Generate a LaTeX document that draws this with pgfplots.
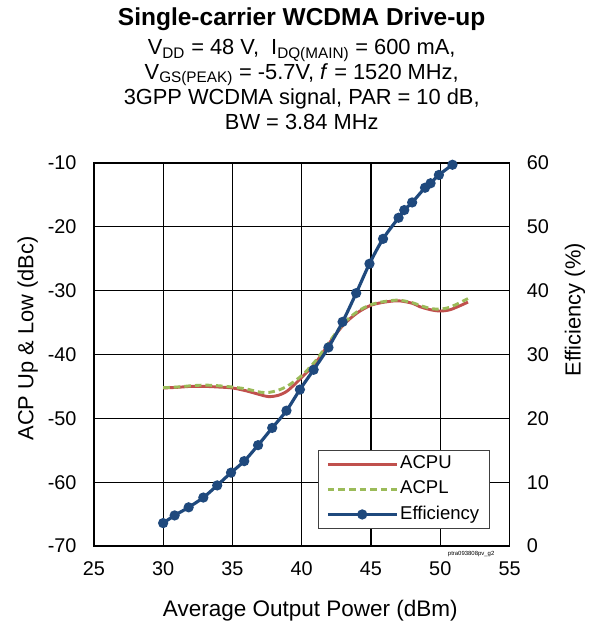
\documentclass[border=0pt]{standalone}
\usepackage{fontspec}
\setmainfont{Liberation Sans}
\usepackage{pgfplots}
\pgfplotsset{compat=1.18}
\definecolor{acpu}{RGB}{192,80,77}
\definecolor{acpl}{RGB}{155,187,89}
\definecolor{effc}{RGB}{31,73,125}

\pgfplotstableread{
P ACPU
30 -45.25
31 -45.15
32 -45.0
33 -45.0
34 -45.1
35 -45.25
36 -45.7
37 -46.3
37.6 -46.6
38.3 -46.4
39 -45.65
40 -43.6
41 -41.3
42 -38.2
43 -35.4
44 -33.5
45 -32.3
46 -31.8
47 -31.6
48 -32.0
48.5 -32.5
49.3 -33.0
50 -33.2
50.7 -33.0
51.5 -32.3
52 -31.8
}\acpudata

\pgfplotstableread{
P ACPL
30 -45.2
31 -45.1
32 -44.9
33 -44.8
34 -44.9
35 -45.1
36 -45.4
37 -45.9
37.6 -45.95
38.3 -45.6
39 -44.9
40 -43.3
41 -41.0
42 -38.0
43 -35.2
44 -33.3
45 -32.2
46 -31.7
47 -31.5
48 -31.9
48.5 -32.3
49.3 -32.8
50 -32.9
50.7 -32.6
51.5 -31.8
52 -31.25
}\acpldata

\pgfplotstableread{
P Eff
30.0 3.6
30.83 4.8
31.84 6.07
32.9 7.6
33.9 9.5
34.9 11.5
35.85 13.3
36.85 15.8
37.87 18.5
38.9 21.2
39.87 24.5
40.86 27.6
41.93 31.1
42.95 35.1
43.93 39.6
44.89 44.2
45.87 48.1
46.99 51.4
47.4 52.6
47.97 53.8
48.9 56.1
49.3 56.8
49.9 58.1
50.88 59.7
}\effdata

\begin{document}
\begin{tikzpicture}[font=\fontsize{15}{18}\selectfont]
\pgfplotsset{
  every axis/.append style={
    scale only axis, width=314pt, height=289.5pt,
    xmin=25, xmax=55,
    /pgf/number format/assume math mode=true,
    tick style={draw=none},
    ticklabel style={font=\fontsize{15}{18}\selectfont},
  }
}
\begin{axis}[
  name=main,
  ymin=-70, ymax=-10,
  ytick={-70,-60,...,-10},
  xtick={25,30,...,55},
  grid=major,
  grid style={black, line width=0.9pt},
  axis line style={black, line width=1.1pt},
  xticklabel style={yshift=-8pt},
  yticklabel style={xshift=-9.6pt},
]
\addplot[acpu, line width=2.2pt, smooth] table[x=P, y=ACPU] {\acpudata};
\addplot[acpl, line width=2.2pt, smooth, dash pattern=on 5pt off 3pt] table[x=P, y=ACPL] {\acpldata};
\end{axis}
\begin{axis}[
  ymin=0, ymax=60,
  ytick={0,10,...,60},
  axis y line*=right,
  axis x line=none,
  axis line style={draw=none},
  yticklabel style={xshift=9.6pt},
  legend cell align=left,
  legend style={
    at={(0.5386,0.0449)}, anchor=south west,
    draw=black!75, line width=0.8pt,
    font=\fontsize{14}{16}\selectfont,
    inner xsep=6pt, inner ysep=2.5pt,
    nodes={inner sep=1.5pt, text height=10pt, text depth=3pt},
    row sep=3pt,
  },
  legend image code/.code={
    \draw[mark repeat=2, mark phase=2] plot coordinates {(0pt,0pt) (26pt,0pt) (52pt,0pt)};
  },
]
\addlegendimage{acpu, line width=2.2pt}
\addlegendentry{ACPU}
\addlegendimage{acpl, line width=2.2pt, dash pattern=on 5pt off 3pt}
\addlegendentry{ACPL}
\addplot[effc, line width=2.4pt, smooth, mark=*, mark size=2.6pt, mark options={solid}] table[x=P, y=Eff] {\effdata};
\addlegendentry{Efficiency}
\end{axis}
% titles
\node[anchor=base, font=\bfseries\fontsize{18.5}{20}\selectfont] at (157pt,393pt) {Single-carrier WCDMA Drive-up};
\node[anchor=base, font=\fontsize{16.5}{18}\selectfont] at (157pt,371.25pt) {V\textsubscript{DD} = 48 V,\ \ I\textsubscript{DQ(MAIN)} = 600 mA,};
\node[anchor=base, font=\fontsize{16.5}{18}\selectfont] at (157pt,352.5pt) {V\textsubscript{GS(PEAK)} = -5.7V, \textit{f} = 1520 MHz,};
\node[anchor=base, font=\fontsize{16.5}{18}\selectfont] at (157pt,333.75pt) {3GPP WCDMA signal, PAR = 10 dB,};
\node[anchor=base, font=\fontsize{16.5}{18}\selectfont] at (157pt,315pt) {BW = 3.84 MHz};
% axis labels
\node[anchor=base, font=\fontsize{17}{18}\selectfont] at (163.5pt,-53.5pt) {Average Output Power (dBm)};
\node[anchor=base, rotate=90, font=\fontsize{16.5}{18}\selectfont] at (-45.6pt,156.75pt) {ACP Up \& Low (dBc)};
\node[anchor=base, rotate=90, font=\fontsize{16.5}{18}\selectfont] at (367.6pt,178.5pt) {Efficiency (\%)};
\node[font=\fontsize{4.5}{5}\selectfont] at (285pt,-6pt) {ptra093808pv\_g2};
\path[use as bounding box] (-70.9pt,-57pt) rectangle (379.1pt,412.5pt);
\end{tikzpicture}
\end{document}
